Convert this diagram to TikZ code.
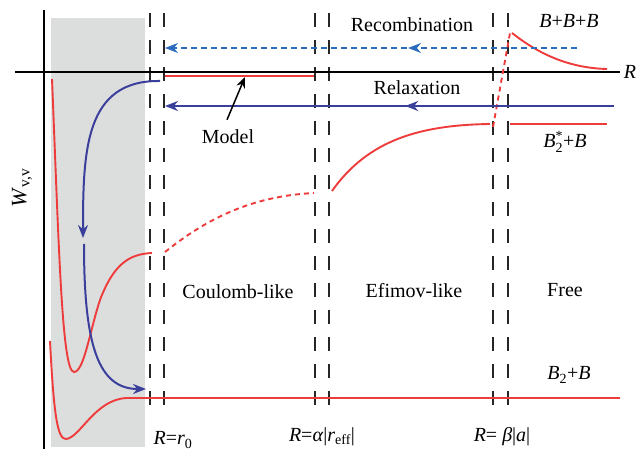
\documentclass[tikz,border=0pt]{standalone}
\usepackage{fontspec}
\usepackage{amsmath}
\setmainfont{Liberation Serif}
\usetikzlibrary{arrows.meta,decorations.markings}

\definecolor{potred}{HTML}{EE3B3B}
\definecolor{relblue}{HTML}{3B3F9C}
\definecolor{recblue}{HTML}{2A6BBE}
\definecolor{regiongray}{HTML}{DCDDDD}

\tikzset{
    pot/.style={potred, line width=1.9pt},
    potdash/.style={pot, dash pattern=on 5pt off 4pt},
    border/.style={black!85, line width=1.2pt, dash pattern=on 14pt off 13pt},
    midarrow/.style={postaction={decorate}, decoration={markings,
        mark=at position #1 with {\arrow{Stealth[length=13pt,width=10pt]}}}},
    lbl/.style={font=\fontsize{20}{24}\selectfont, inner sep=0pt},
}

\begin{document}
\begin{tikzpicture}[x=1pt, y=-1pt]
    \useasboundingbox (0,0) rectangle (637,454);
    % Short-range region
    \fill[regiongray] (51,18) rectangle (145,447);
    % Region borders
    \foreach \xb in {150,164,315,329,493,508}
        \draw[border] (\xb,13) -- (\xb,416);
    % Axes
    \draw[black, line width=1.2pt] (15,72) -- (620,72);
    \draw[black, line width=1.2pt] (44,10) -- (44,449);
    \node[lbl] (rlab) at (630,72) {\textit{R}};
    \node[lbl, font=\fontsize{22}{26}\selectfont, rotate=90] (wlab) at (22,188) {\textit{W}\textsubscript{v,v}};

    % Potential curves
    \draw[pot] (52,79) .. controls (59,250) and (62,372) .. (74,372)
        .. controls (84,372) and (90,330) .. (100,300)
        .. controls (114,263) and (130,254) .. (152,253);
    \draw[pot] (50,341) .. controls (54,420) and (58,439) .. (66,439)
        .. controls (80,438) and (95,399) .. (127,398) -- (620,398);
    \draw[potdash] (165,252) .. controls (210,216) and (255,196) .. (314,193);
    \draw[pot] (332,191) .. controls (368,140) and (420,125) .. (490,124);
    \draw[potdash] (493,127) -- (510,33);
    \draw[pot] (512,33) .. controls (540,55) and (570,68) .. (607,69);
    \draw[pot] (510,124) -- (607,124);
    \draw[pot] (165,76) -- (314,76);

    % Arrows
    \coordinate (recR) at (577,48);
    \coordinate (recL) at (165,48);
    \coordinate (relR) at (614,106);
    \coordinate (relL) at (165,106);
    \coordinate (modtip) at (245,77);
    \draw[recblue, line width=1.5pt, dash pattern=on 6pt off 4pt, midarrow=0.41, -{Stealth[length=13pt,width=10pt]}]
        (recR) -- (recL);
    \draw[relblue, line width=2pt, midarrow=0.465, -{Stealth[length=13pt,width=10pt]}]
        (relR) -- (relL);
    \draw[relblue, line width=2pt, -{Stealth[length=13pt,width=10pt]}]
        (160,81) .. controls (85,80) and (83,150) .. (83,238);
    \draw[relblue, line width=2pt, -{Stealth[length=13pt,width=10pt]}]
        (84,244) .. controls (84,345) and (98,389) .. (146,389);

    % Labels
    \node[lbl] (recomb) at (412,25) {Recombination};
    \node[lbl] (relax) at (417,88) {Relaxation};
    \node[lbl] (model) at (228,137) {Model};
    \draw[black, line width=1.5pt, -{Stealth[length=11pt,width=9pt]}]
        (model.north) ++(-1,-10) -- (modtip);
    \node[lbl] (bbb) at (569,21) {\textit{B}+\textit{B}+\textit{B}};
    \node[lbl] (bstar) at (565,142) {\textit{B}$^{\text{*}}_{\text{2}}$+\textit{B}};
    \node[lbl] (bb) at (569,375) {\textit{B}\textsubscript{2}+\textit{B}};
    \node[lbl] (coul) at (238,292) {Coulomb-like};
    \node[lbl] (efim) at (414,291) {Efimov-like};
    \node[lbl] (free) at (565,290) {Free};
    \node[lbl] (rzero) at (173,440) {\textit{R}=\textit{r}\textsubscript{0}};
    \node[lbl] (ralpha) at (322,437) {\textit{R}=\textit{α}|\textit{r}\textsubscript{eff}|};
    \node[lbl] (rbeta) at (502,437) {\textit{R}= \textit{β}|\textit{a}|};
\end{tikzpicture}
\end{document}
